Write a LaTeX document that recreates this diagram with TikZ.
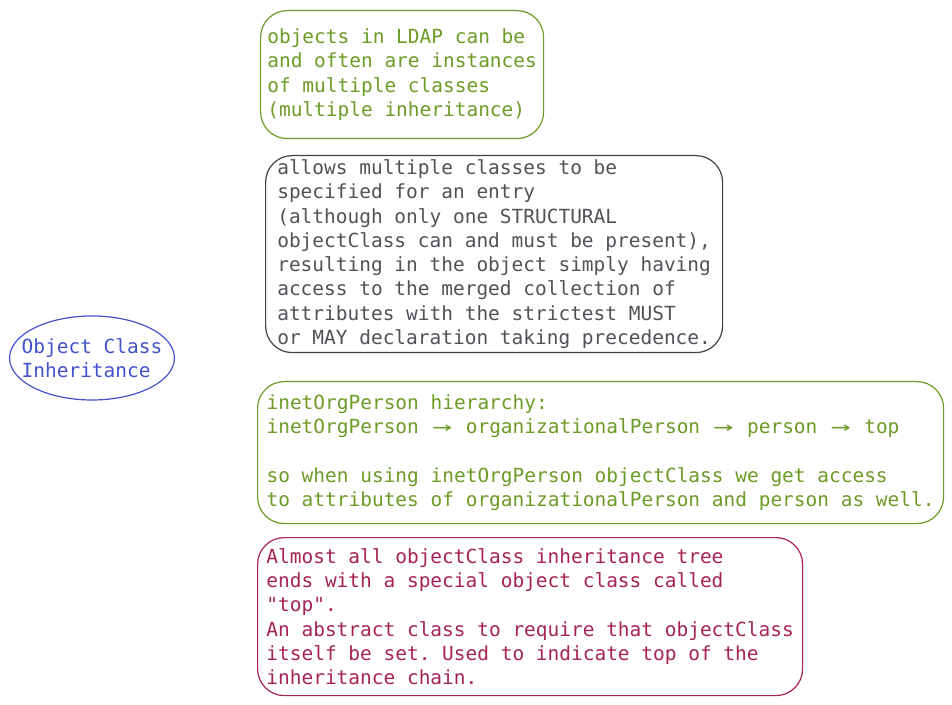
\documentclass[tikz,border=0pt]{standalone}
\usepackage{fontspec}
\usepackage{graphicx}
\setmonofont{DejaVu Sans Mono}
\usetikzlibrary{shapes.geometric}
\definecolor{leafgreen}{RGB}{108,155,38}
\definecolor{notegray}{RGB}{80,82,88}
\definecolor{rootblue}{RGB}{66,82,200}
\definecolor{tipred}{RGB}{165,35,85}
\newcommand{\ligarrow}{\makebox[1.204em]{\scalebox{1.7}[1]{→}}}
\begin{document}
\begin{tikzpicture}[x=.75pt,y=-.75pt,
  note/.style={draw,rounded corners=20pt,line width=.9pt,anchor=north west,
    align=left,inner sep=0pt,font=\ttfamily\fontsize{14.6}{18.2}\selectfont},
  root/.style={draw,ellipse,line width=.9pt,inner xsep=-9pt,inner ysep=0pt,align=left,
    minimum height=63pt,font=\ttfamily\fontsize{14.6}{18.2}\selectfont}]
\useasboundingbox (0,0) rectangle (952,705);
\node[root,draw=rootblue,text=rootblue] (inherit) at (92,358) {Object Class\\Inheritance};
\node[note,draw=leafgreen,text=leafgreen,minimum width=212.25pt,minimum height=96pt] (multi) at (260,10)
  {objects in LDAP can be\\and often are instances\\of multiple classes\\(multiple inheritance)};
\node[note,draw=notegray!80!black,text=notegray,minimum width=342.75pt,minimum height=147.75pt] (merge) at (265,155)
  {allows multiple classes to be\\specified for an entry\\(although only one STRUCTURAL\\objectClass can and must be present),\\resulting in the object simply having\\access to the merged collection of\\attributes with the strictest MUST\\or MAY declaration taking precedence.};
\node[note,draw=leafgreen,text=leafgreen,minimum width=514.5pt,minimum height=106.5pt] (chain) at (257,381)
  {inetOrgPerson hierarchy:\\inetOrgPerson \ligarrow{} organizationalPerson \ligarrow{} person \ligarrow{} top\\\mbox{}\\so when using inetOrgPerson objectClass we get access\\to attributes of organizationalPerson and person as well.};
\node[note,draw=tipred,text=tipred,minimum width=408.75pt,minimum height=118.5pt] (top) at (257,537)
  {Almost all objectClass inheritance tree\\ends with a special object class called\\"top".\\An abstract class to require that objectClass\\itself be set. Used to indicate top of the\\inheritance chain.};
\end{tikzpicture}
\end{document}
